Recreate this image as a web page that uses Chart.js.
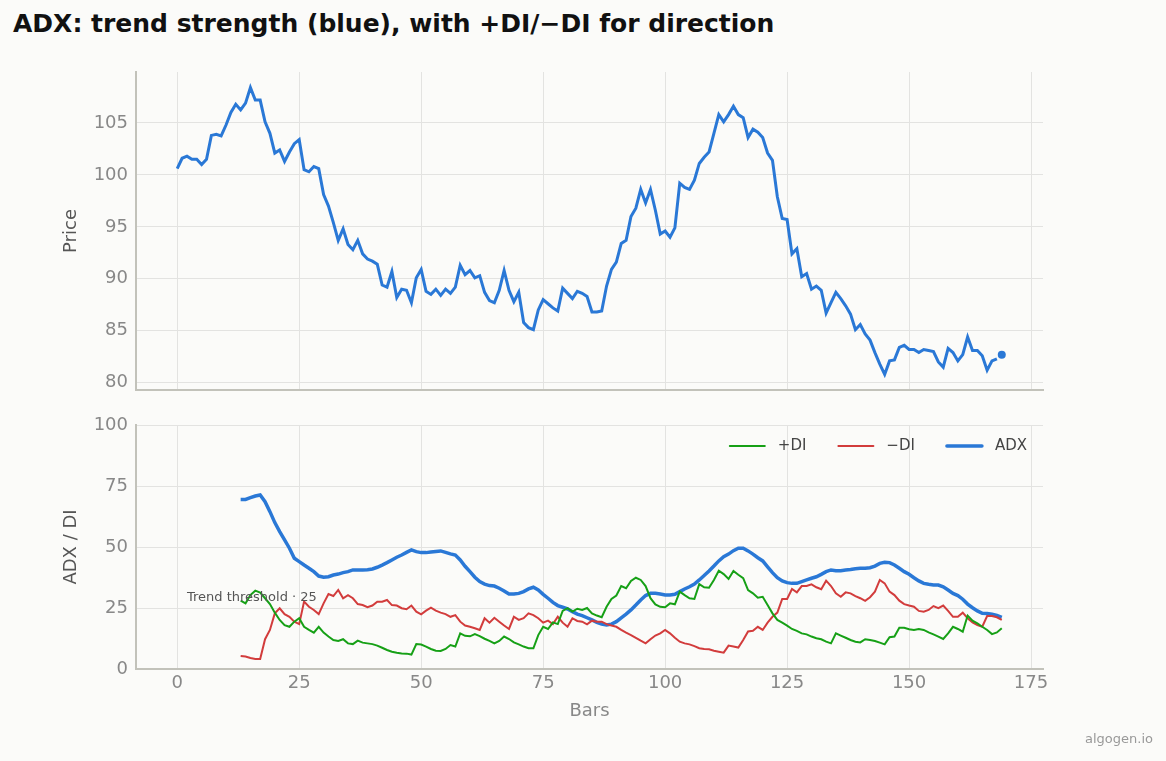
<!DOCTYPE html>
<html>
<head>
<meta charset="utf-8">
<script src="https://cdn.jsdelivr.net/npm/chart.js@4.4.1/dist/chart.umd.min.js"></script>
<style>
  html, body { margin: 0; padding: 0; background: #fbfbf9; }
  #page { position: relative; width: 1166px; height: 761px; overflow: hidden; font-family: "DejaVu Sans", sans-serif; }
  #title { position: absolute; left: 13px; top: 11px; font-size: 25px; font-weight: bold; color: #111; line-height: 1; white-space: nowrap; }
  #brand { position: absolute; right: 13px; top: 732px; font-size: 13px; color: #999; line-height: 1; }
  #priceChart { position: absolute; left: 0; top: 40px; }
  #adxChart { position: absolute; left: 0; top: 400px; }
</style>
</head>
<body>
<div id="page">
  <div id="title">ADX: trend strength (blue), with +DI/−DI for direction</div>
  <canvas id="priceChart" width="1166" height="375"></canvas>
  <canvas id="adxChart" width="1166" height="361"></canvas>
  <div id="brand">algogen.io</div>
</div>
<script>
// bars 0..168 (close), last bar drawn as a dot
const PRICE = [
  100.6, 101.6, 101.8, 101.5, 101.5, 101.0, 101.5, 103.8, 103.9, 103.75,
  104.8, 106.0, 106.8, 106.25, 106.9, 108.4, 107.2, 107.2, 105.1, 104.0,
  102.1, 102.4, 101.3, 102.2, 103.0, 103.4, 100.5, 100.3, 100.8, 100.6,
  98.1, 97.0, 95.4, 93.7, 94.8, 93.3, 92.8, 93.7, 92.4, 91.9,
  91.7, 91.4, 89.4, 89.2, 90.7, 88.2, 89.0, 88.9, 87.7, 90.1,
  90.9, 88.8, 88.5, 89.0, 88.4, 89.0, 88.6, 89.2, 91.3, 90.4,
  90.8, 90.1, 90.3, 88.7, 87.9, 87.7, 88.9, 90.8, 88.9, 87.8,
  88.7, 85.8, 85.3, 85.1, 87.0, 88.0, 87.6, 87.2, 86.9, 89.1,
  88.6, 88.1, 88.8, 88.6, 88.3, 86.8, 86.8, 86.9, 89.3, 90.9,
  91.6, 93.4, 93.7, 96.0, 96.8, 98.6, 97.3, 98.6, 96.6, 94.3,
  94.6, 94.0, 94.9, 99.2, 98.8, 98.6, 99.5, 101.1, 101.7, 102.2,
  104.0, 105.8, 105.1, 105.8, 106.6, 105.8, 105.5, 103.6, 104.4, 104.1,
  103.6, 102.1, 101.4, 97.9, 95.8, 95.7, 92.4, 92.9, 90.2, 90.5,
  89.0, 89.3, 88.9, 86.7, 87.7, 88.7, 88.1, 87.4, 86.6, 85.1,
  85.6, 84.7, 84.1, 82.9, 81.8, 80.8, 82.1, 82.2, 83.4, 83.6,
  83.2, 83.2, 82.9, 83.2, 83.1, 83.0, 82.0, 81.5, 83.3, 82.9,
  82.1, 82.7, 84.4, 83.1, 83.1, 82.6, 81.2, 82.1, 82.3
];
const LAST_BAR = 169;
const LAST_PRICE = 82.7;

// indicator values start at bar 13
const DI_START = 13;
const ADX = [
  69.5, 69.5, 70.2, 70.9, 71.3, 68.6, 64.5, 60.0, 56.3, 52.9,
  49.5, 45.4, 44.0, 42.6, 41.3, 39.9, 38.1, 37.6, 37.8, 38.5,
  38.9, 39.5, 39.9, 40.6, 40.6, 40.6, 40.7, 41.0, 41.7, 42.6,
  43.6, 44.7, 45.8, 46.7, 47.8, 48.8, 48.1, 47.7, 47.7, 47.95,
  48.2, 48.4, 47.8, 47.2, 46.7, 44.7, 42.1, 39.9, 37.6, 35.8,
  34.8, 34.2, 34.0, 33.1, 32.0, 30.7, 30.7, 31.0, 31.7, 32.8,
  33.5, 32.4, 30.6, 29.0, 27.3, 26.0, 25.3, 24.6, 23.5, 22.5,
  21.9, 21.0, 20.1, 19.1, 18.4, 18.0, 18.4, 19.4, 21.0, 22.5,
  24.2, 26.2, 28.3, 30.1, 31.0, 31.0, 30.7, 30.3, 30.3, 30.6,
  31.7, 32.8, 33.7, 34.8, 36.5, 38.3, 40.2, 42.2, 44.3, 46.0,
  47.1, 48.5, 49.5, 49.5, 48.4, 47.1, 45.6, 44.3, 41.9, 39.5,
  37.4, 36.1, 35.4, 35.1, 35.1, 35.8, 36.5, 37.2, 37.8, 38.8,
  39.9, 40.6, 40.3, 40.3, 40.6, 40.8, 41.1, 41.3, 41.3, 41.5,
  42.2, 43.3, 43.7, 43.6, 42.6, 41.3, 39.9, 38.8, 37.4, 36.1,
  35.1, 34.7, 34.4, 34.4, 33.7, 32.4, 31.0, 30.1, 28.6, 26.6,
  25.1, 23.8, 22.8, 22.7, 22.4, 22.0, 21.2
];
const PLUS_DI = [
  28.0, 26.9, 30.3, 32.1, 31.3, 29.0, 26.6, 23.1, 20.1, 18.0,
  17.3, 19.4, 20.8, 17.3, 16.0, 14.9, 17.3, 14.9, 13.3, 11.9,
  11.5, 12.2, 10.5, 10.2, 11.6, 10.8, 10.5, 10.2, 9.6, 8.7,
  7.8, 7.1, 6.7, 6.4, 6.3, 5.9, 10.2, 10.0, 9.2, 8.2,
  7.5, 7.4, 8.2, 9.8, 9.2, 14.6, 13.6, 13.4, 14.3, 13.5,
  12.4, 11.5, 10.5, 11.5, 13.3, 12.3, 10.9, 10.1, 9.2, 8.5,
  8.5, 13.9, 17.3, 16.4, 19.1, 18.4, 23.8, 24.9, 23.5, 24.7,
  24.2, 25.0, 22.8, 21.9, 21.2, 25.5, 28.7, 30.1, 34.0, 33.1,
  36.1, 37.4, 36.5, 34.0, 29.0, 26.5, 25.5, 25.3, 26.9, 26.5,
  31.7, 30.3, 29.0, 28.7, 34.8, 33.5, 33.3, 36.5, 40.3, 38.9,
  36.9, 40.2, 38.6, 37.2, 32.3, 31.0, 29.2, 29.6, 26.2, 22.8,
  20.1, 19.0, 17.8, 16.4, 15.6, 14.6, 14.2, 13.3, 12.6, 12.2,
  11.2, 10.5, 14.6, 13.7, 12.8, 11.9, 11.2, 10.9, 12.2, 11.9,
  11.5, 10.8, 10.1, 13.0, 13.3, 16.9, 16.9, 16.3, 16.0, 16.4,
  16.0, 15.0, 14.2, 13.3, 12.3, 14.6, 17.3, 16.4, 15.3, 21.9,
  19.8, 18.7, 17.3, 16.0, 14.3, 15.0, 16.7
];
const MINUS_DI = [
  5.3, 5.1, 4.5, 4.1, 4.1, 12.2, 16.0, 22.8, 24.9, 22.5,
  21.4, 19.4, 18.4, 27.6, 25.5, 24.2, 22.5, 26.9, 30.7, 29.9,
  32.4, 29.0, 30.3, 29.0, 26.6, 26.2, 25.3, 26.0, 27.6, 27.6,
  28.3, 26.2, 26.0, 24.9, 24.5, 26.0, 23.5, 22.4, 23.9, 25.1,
  23.9, 23.1, 22.5, 21.4, 22.1, 19.4, 17.8, 17.3, 16.7, 16.0,
  20.8, 19.0, 21.0, 19.4, 17.8, 16.4, 21.4, 20.1, 20.8, 22.8,
  22.1, 20.8, 19.0, 19.8, 18.4, 21.4, 19.0, 17.3, 20.8, 19.7,
  19.4, 18.3, 19.8, 19.4, 19.4, 18.4, 17.8, 17.3, 16.0, 14.9,
  13.9, 12.8, 11.6, 10.5, 12.2, 13.7, 14.6, 16.0, 14.6, 12.8,
  11.2, 10.5, 10.1, 9.4, 8.5, 8.2, 8.1, 7.5, 7.1, 6.7,
  9.6, 9.2, 8.8, 11.9, 15.4, 15.7, 17.3, 16.0, 19.0, 21.4,
  23.1, 28.7, 28.7, 32.8, 31.4, 34.0, 34.0, 34.7, 33.5, 32.7,
  36.2, 34.0, 31.0, 29.6, 31.4, 31.0, 29.9, 29.0, 27.9, 29.4,
  31.7, 36.5, 35.1, 31.7, 30.3, 28.0, 26.6, 26.0, 25.5, 23.8,
  23.5, 24.2, 25.8, 24.9, 26.0, 23.8, 21.4, 21.4, 23.1, 20.8,
  19.1, 18.0, 17.3, 21.7, 21.7, 21.2, 20.1
];

const X_TICKS = [0, 25, 50, 75, 100, 125, 150, 175];
const PRICE_TICKS = [80, 85, 90, 95, 100, 105];
const ADX_TICKS = [0, 25, 50, 75, 100];
const THRESHOLD = 25;
const THRESHOLD_LABEL = "Trend threshold · 25";

const BLUE = "#2a78d6";
const GREEN = "#16a016";
const RED = "#d23c3c";
const GRID = "#e3e3e1";
const SPINE = "#c2c2ba";

Chart.defaults.font.family = "'DejaVu Sans', sans-serif";
Chart.defaults.animation = false;

const pts = (arr, start) => arr.map((v, i) => ({ x: start + i, y: v }));
const setTicks = list => scale => { scale.ticks = list.map(v => ({ value: v })); };

function xScale(showLabels) {
    return {
        type: "linear",
        min: -8.45,
        max: 177.45,
        afterBuildTicks: setTicks(X_TICKS),
        afterFit: s => { s.height = showLabels ? 60 : 25; },
        grid: { color: GRID, drawTicks: false },
        border: { color: SPINE, width: 2 },
        ticks: { display: showLabels, color: "#888", padding: 4, font: { size: 18 } },
        title: {
            display: showLabels, text: "Bars", color: "#888",
            font: { size: 18 }, padding: { top: 0, bottom: 7 }
        }
    };
}

function yScale(min, max, ticks, label) {
    return {
        type: "linear",
        min: min,
        max: max,
        afterBuildTicks: setTicks(ticks),
        afterFit: s => { s.width = 136; },
        grid: { color: GRID, drawTicks: false },
        border: { color: SPINE, width: 2 },
        ticks: { color: "#888", padding: 8, font: { size: 18 } },
        title: {
            display: true, text: label, color: "#555",
            font: { size: 18 }, padding: { top: 61, bottom: 0 }
        }
    };
}

new Chart(document.getElementById("priceChart"), {
    type: "line",
    data: {
        datasets: [{
            label: "Price",
            data: pts(PRICE, 0),
            borderColor: BLUE,
            borderWidth: 3,
            pointRadius: 0,
            tension: 0
        }, {
            label: "Last",
            data: [{ x: LAST_BAR, y: LAST_PRICE }],
            showLine: false,
            pointRadius: 4,
            pointBackgroundColor: BLUE,
            pointBorderColor: BLUE,
            pointBorderWidth: 0
        }]
    },
    options: {
        responsive: false,
        layout: { padding: { left: 0, right: 123, top: 32, bottom: 0 } },
        plugins: { legend: { display: false }, tooltip: { enabled: false } },
        scales: {
            x: xScale(false),
            y: yScale(79.3, 109.9, PRICE_TICKS, "Price")
        }
    }
});

// legend inside the plot (top right) + threshold note
const panelDecor = {
    id: "panelDecor",
    afterDatasetsDraw(chart) {
        const { ctx, chartArea, scales } = chart;
        ctx.save();
        ctx.font = "13px 'DejaVu Sans', sans-serif";
        ctx.fillStyle = "#555";
        ctx.textAlign = "left";
        ctx.textBaseline = "alphabetic";
        ctx.fillText(THRESHOLD_LABEL, scales.x.getPixelForValue(2), scales.y.getPixelForValue(THRESHOLD) - 7);

        ctx.font = "15px 'DejaVu Sans', sans-serif";
        ctx.textBaseline = "middle";
        const y = chartArea.top + 21;
        let x = chartArea.right - 16;
        const items = chart.data.datasets.slice().reverse();
        items.forEach(ds => {
            const w = ctx.measureText(ds.label).width;
            x -= 35 + 13 + w;
            ctx.strokeStyle = ds.borderColor;
            ctx.lineWidth = ds.borderWidth;
            ctx.lineCap = "round";
            ctx.beginPath();
            ctx.moveTo(x, y);
            ctx.lineTo(x + 35, y);
            ctx.stroke();
            ctx.fillStyle = "#444";
            ctx.fillText(ds.label, x + 48, y);
            x -= 32;
        });
        ctx.restore();
    }
};

new Chart(document.getElementById("adxChart"), {
    type: "line",
    data: {
        datasets: [{
            label: "+DI",
            data: pts(PLUS_DI, DI_START),
            borderColor: GREEN,
            borderWidth: 2,
            pointRadius: 0
        }, {
            label: "−DI",
            data: pts(MINUS_DI, DI_START),
            borderColor: RED,
            borderWidth: 2,
            pointRadius: 0
        }, {
            label: "ADX",
            data: pts(ADX, DI_START),
            borderColor: BLUE,
            borderWidth: 3.5,
            pointRadius: 0
        }]
    },
    options: {
        responsive: false,
        layout: { padding: { left: 0, right: 123, top: 25, bottom: 32 } },
        plugins: { legend: { display: false }, tooltip: { enabled: false } },
        scales: {
            x: xScale(true),
            y: yScale(0, 100, ADX_TICKS, "ADX / DI")
        }
    },
    plugins: [panelDecor]
});
</script>
</body>
</html>
